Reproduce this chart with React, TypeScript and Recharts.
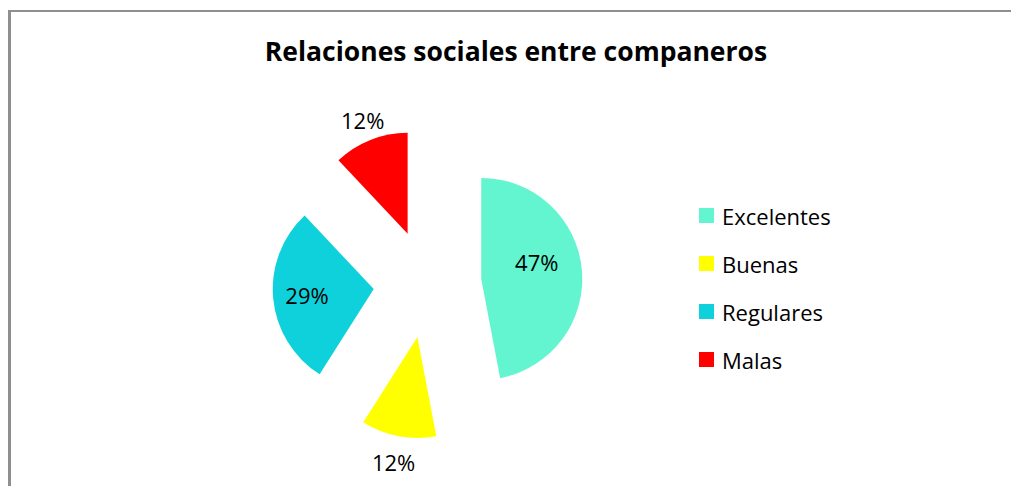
import React from 'react';
import { PieChart, Pie, Legend, Sector } from 'recharts';

const title = 'Relaciones sociales entre companeros';
const categories = ['Excelentes', 'Buenas', 'Regulares', 'Malas'];
const values = [47, 12, 29, 12];
const colors = ['#62F5CF', '#FFFF00', '#0FD1DB', '#FF0000'];

const data = categories.map((name, i) => ({ name, value: values[i] }));

const FONT = '"Open Sans", Lato, sans-serif';
const EXPLODE = 54;
const RAD = Math.PI / 180;
// where each % label sits, measured from the tip of its pulled-out slice
const labelPlace = [
  { r: 58, turn: 11.5 },
  { r: 127, turn: 0 },
  { r: 67, turn: 0 },
  { r: 122, turn: 0 },
];

function SliceWithLabel(props: any) {
  const { cx, cy, midAngle, innerRadius, outerRadius, startAngle, endAngle, index, percent } = props;
  const ox = cx + EXPLODE * Math.cos(-midAngle * RAD);
  const oy = cy + EXPLODE * Math.sin(-midAngle * RAD);
  const place = labelPlace[index];
  const a = (midAngle + place.turn) * RAD;
  const tx = ox + place.r * Math.cos(-a);
  const ty = oy + place.r * Math.sin(-a);
  return (
    <g>
      <Sector
        cx={ox}
        cy={oy}
        innerRadius={innerRadius}
        outerRadius={outerRadius}
        startAngle={startAngle}
        endAngle={endAngle}
        fill={colors[index]}
        stroke="none"
      />
      <text
        x={tx}
        y={ty}
        textAnchor="middle"
        dominantBaseline="central"
        fontFamily={FONT}
        fontSize={22}
        fill="#000"
      >
        {Math.round(percent * 100)}%
      </text>
    </g>
  );
}

function LegendBox() {
  return (
    <div style={{ fontFamily: FONT, fontSize: 22, color: '#000' }}>
      {categories.map((c, i) => (
        <div key={c} style={{ display: 'flex', alignItems: 'center', height: 48 }}>
          <span style={{ width: 15, height: 15, background: colors[i], marginRight: 8, display: 'inline-block' }} />
          <span>{c}</span>
        </div>
      ))}
    </div>
  );
}

export default function App() {
  return (
    <div style={{ position: 'absolute', left: 0, top: 0, width: 1011, height: 486, background: '#fff' }}>
      <div
        style={{
          position: 'absolute',
          left: 8,
          top: 10,
          width: 1000,
          height: 476,
          borderLeft: '3px solid #8f8f8f',
          borderTop: '2px solid #8f8f8f',
        }}
      />
      <svg style={{ position: 'absolute', left: 0, top: 0 }} width={1011} height={80}>
        <text x={516} y={61} textAnchor="middle" fontFamily={FONT} fontWeight="bold" fontSize={26.5} fill="#000">
          {title}
        </text>
      </svg>
      <div style={{ position: 'absolute', left: 0, top: 0 }}>
        <PieChart width={1011} height={486} margin={{ top: 0, right: 0, bottom: 0, left: 0 }}>
          <Pie
            data={data}
            dataKey="value"
            nameKey="name"
            cx={427.5}
            cy={284}
            outerRadius={101}
            startAngle={90}
            endAngle={-270}
            fill="none"
            stroke="none"
            label={SliceWithLabel}
            labelLine={false}
            isAnimationActive={false}
          />
          <Legend
            layout="vertical"
            verticalAlign="middle"
            align="right"
            wrapperStyle={{ left: 699, top: 191.5, width: 200, right: 'auto' }}
            content={() => <LegendBox />}
          />
        </PieChart>
      </div>
    </div>
  );
}
